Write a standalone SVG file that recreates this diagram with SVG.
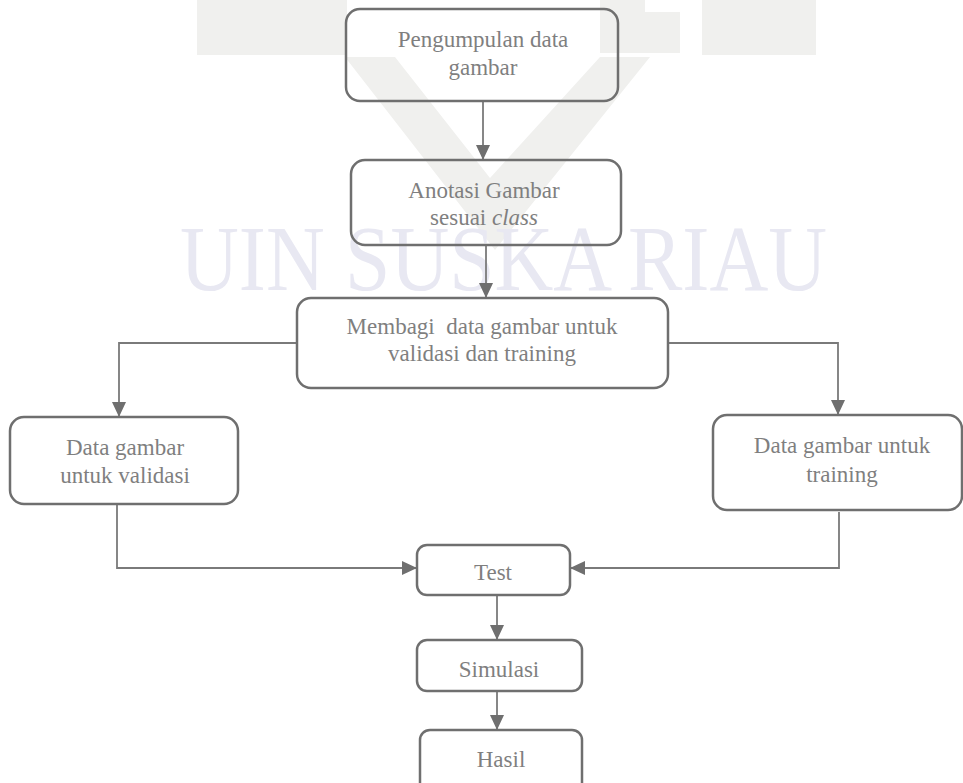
<svg xmlns="http://www.w3.org/2000/svg" width="963" height="783" viewBox="0 0 963 783">
<style>
.box{fill:none;stroke:#6f6f6f;stroke-width:2.5}
.lbl{font-family:"Liberation Serif","Times New Roman",serif;font-size:23px;fill:#7f7f7f;text-anchor:middle}
.con{fill:none;stroke:#7a7a7a;stroke-width:1.8}
.wm{fill:#f0f0ee}
</style>
<defs>
<marker id="ah" markerUnits="userSpaceOnUse" markerWidth="16" markerHeight="16" refX="15" refY="7" orient="auto">
<path d="M0,0 L15,7 L0,14 Z" fill="#6f6f6f"/>
</marker>
</defs>
<rect width="963" height="783" fill="#ffffff"/>
<g id="watermark">
<rect class="wm" x="197" y="0" width="150" height="55"/>
<polygon class="wm" points="345,57 395,57 490,178 600,57 650,57 495,250"/>
<path class="wm" d="M600,0 H680 V53 H600 Z M645,0 V12 H680 V0 Z" fill-rule="evenodd"/>
<rect class="wm" x="702" y="0" width="114" height="55"/>
<text x="180" y="290" font-family="'Liberation Serif',serif" font-size="94" fill="#e8e8f2" textLength="647" lengthAdjust="spacingAndGlyphs">UIN SUSKA RIAU</text>
</g>
<g id="connectors">
<line class="con" x1="483" y1="101" x2="483" y2="160" marker-end="url(#ah)"/>
<line class="con" x1="486" y1="246" x2="486" y2="298" marker-end="url(#ah)"/>
<polyline class="con" points="297,343 119,343 119,417" marker-end="url(#ah)"/>
<polyline class="con" points="668,343 838,343 838,415" marker-end="url(#ah)"/>
<polyline class="con" points="117,505 117,568 417,568" marker-end="url(#ah)"/>
<polyline class="con" points="839,512 839,568 570,568" marker-end="url(#ah)"/>
<line class="con" x1="497" y1="595" x2="497" y2="640" marker-end="url(#ah)"/>
<line class="con" x1="497" y1="691" x2="497" y2="730" marker-end="url(#ah)"/>
</g>
<g id="n1"><rect class="box" x="346" y="9" width="272" height="92" rx="14"/>
<text class="lbl" x="483" y="47">Pengumpulan data</text><text class="lbl" x="483" y="75">gambar</text></g>
<g id="n2"><rect class="box" x="351" y="160" width="270" height="85" rx="14"/>
<text class="lbl" x="484" y="198">Anotasi Gambar</text><text class="lbl" x="484" y="225">sesuai <tspan font-style="italic">class</tspan></text></g>
<g id="n3"><rect class="box" x="297" y="298" width="371" height="90" rx="14"/>
<text class="lbl" x="482" y="334" xml:space="preserve">Membagi  data gambar untuk</text><text class="lbl" x="482" y="361">validasi dan training</text></g>
<g id="n4"><rect class="box" x="10" y="417" width="228" height="87" rx="14"/>
<text class="lbl" x="125" y="455">Data gambar</text><text class="lbl" x="125" y="483">untuk validasi</text></g>
<g id="n5"><rect class="box" x="713" y="415" width="249" height="95" rx="14"/>
<text class="lbl" x="842" y="453">Data gambar untuk</text><text class="lbl" x="842" y="482">training</text></g>
<g id="n6"><rect class="box" x="417" y="545" width="153" height="50" rx="10"/>
<text class="lbl" x="493" y="580">Test</text></g>
<g id="n7"><rect class="box" x="417" y="640" width="165" height="51" rx="10"/>
<text class="lbl" x="499" y="677">Simulasi</text></g>
<g id="n8"><rect class="box" x="420" y="730" width="162" height="70" rx="10"/>
<text class="lbl" x="501" y="767">Hasil</text></g>
</svg>
